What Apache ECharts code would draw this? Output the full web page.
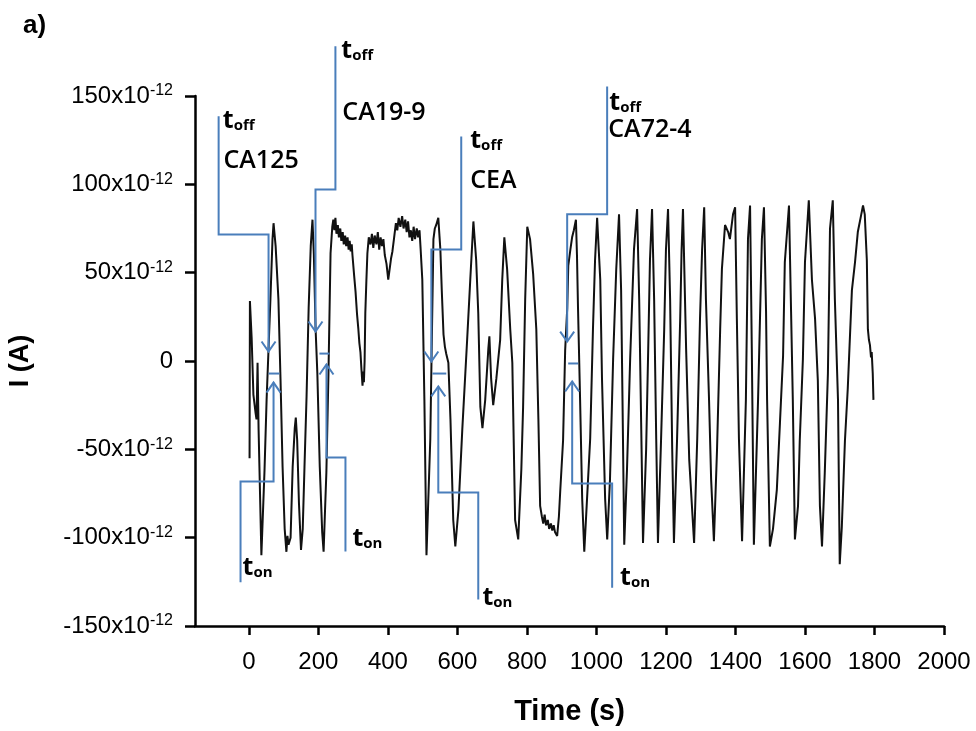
<!DOCTYPE html>
<html>
<head>
<meta charset="utf-8">
<script src="https://cdn.jsdelivr.net/npm/echarts@6/dist/echarts.min.js"></script>
<style>
  html, body { margin: 0; padding: 0; background: #fff; }
  #chart { width: 976px; height: 731px; }
</style>
</head>
<body>
<div id="chart"></div>
<script>
// Photocurrent trace, values in pA (×10^-12 A) against time in seconds
const currentTrace = [
  [2,-55],[3,34],[8,13],[13,-19],[19,-29],[22,-33],[25,-1],[28,-39],[36,-110],[45,-62],[51,-22],[57,9],[62,35],[68,69],[71,78],[77,65],[85,35],[91,-10],[97,-60],[103,-95],[108,-108],[111,-99],[114,-104],[120,-100],[126,-60],[132,-38],[135,-32],[139,-45],[144,-80],[150,-107],[155,-95],[160,-60],[166,-20],[172,30],[178,65],[183,80],[187,60],[192,18],[197,-7],[204,-60],[211,-97],[215,-108],[219,-85],[223,-63],[229,-7],[235,61],[240,76],[243,80],
  [246,74],[249,81],[252,72],[256,77],[259,70],[263,75],[266,68],[270,73],[273,66],[277,71],[280,65],[284,70],[287,63],[290,68],[293,62],[296,66],[298,60],
  [303,48],[307,39],[311,27],[315,18],[318,10],[321,5],[324,-5],[327,-14],[329,-6],[331,-12],[333,0],[335,27],[338,45],[341,61],
  [345,70],[350,66],[354,72],[358,64],[362,71],[367,66],[371,73],[375,63],[379,70],[383,65],[387,69],[391,60],[396,55],[401,46],[405,52],[409,58],[413,62],[418,70],[423,78],[427,74],[431,81],[436,76],[441,82],[445,75],[450,80],[454,73],[458,79],[462,70],[466,74],[470,68],[474,76],[478,69],[483,75],[487,70],[491,74],[494,64],[499,46],[505,-22],[511,-110],
  [516,-80],[522,-44],[527,20],[531,69],[535,75],[539,77],[545,81],[551,63],[555,40],[560,15],[564,8],[568,4],[574,-1],[580,-33],[588,-90],[594,-105],[603,-84],[614,-39],[628,12],[637,46],[646,79],[654,57],[660,27],[666,-26],[672,-38],[680,-22],[689,7],[692,14],[697,-10],[703,-25],[712,-10],[723,12],[729,46],[735,70],[743,52],[752,18],[758,-1],[766,-90],[775,-101],[784,-61],[789,-26],[795,35],[801,76],[809,69],[818,49],[827,18],[833,-33],[838,-82],[843,-88],[847,-92],[851,-87],[855,-93],[860,-90],[864,-95],[869,-92],[873,-96],[877,-93],[881,-97],[887,-99],[892,-88],[896,-73],[904,-45],[910,6],[916,30],[919,54],[925,63],[930,70],[935,74],[941,80],[944,60],[947,30],[953,-22],[959,-78],[965,-108],
  [982,-44],[990,18],[996,57],[1002,81],[1011,46],[1016,-10],[1025,-78],[1031,-101],[1039,-67],[1048,1],[1057,52],[1065,83],[1071,40],[1075,-22],[1080,-104],[1088,-61],[1097,1],[1108,63],[1117,86],[1123,35],[1129,-39],[1134,-103],[1143,-50],[1149,7],[1154,57],[1160,86],[1166,35],[1172,-44],[1177,-103],[1186,-44],[1195,18],[1200,63],[1206,86],[1212,35],[1218,-50],[1223,-103],[1232,-44],[1241,24],[1245,63],[1249,86],[1258,7],[1267,-56],[1281,-103],[1290,-44],[1298,24],[1304,63],[1310,87],[1315,35],[1324,-22],[1330,-67],[1338,-102],[1347,-50],[1356,18],[1361,52],[1370,77],[1379,73],[1384,69],[1393,83],[1399,87],[1404,24],[1410,-44],[1419,-102],[1430,-22],[1436,69],[1442,88],[1447,7],[1453,-104],[1465,-22],[1476,69],[1482,87],[1488,28],[1491,-22],[1499,-105],[1508,-95],[1519,-73],[1528,-35],[1537,3],[1542,56],[1554,88],[1560,28],[1565,-22],[1571,-101],[1580,-82],[1585,-45],[1594,1],[1600,56],[1606,75],[1611,91],[1620,46],[1629,24],[1637,-11],[1643,-82],[1649,-105],[1657,-63],[1666,-7],[1672,75],[1680,91],[1686,35],[1695,-22],[1700,-115],[1706,-94],[1715,-45],[1723,-16],[1735,40],[1744,56],[1752,73],[1761,82],[1767,88],[1772,83],[1778,57],[1781,18],[1784,12],[1787,9],[1790,2],[1792,5],[1795,-7],[1797,-22]
];

// Axis ticks
const timeTicks = [0, 200, 400, 600, 800, 1000, 1200, 1400, 1600, 1800, 2000];

// Light-off / light-on marker paths (time s, current pA); last point carries the arrow
const ca125Off = [[-87, 138.5], [-87, 71.6], [56.6, 71.6], [56.6, 5.4]];
const ca125On  = [[-24, -125.3], [-24, -68.2], [71, -68.2], [71, -12.2]];
const ca125Gap = [[56.6, -7.1], [88, -7.1]];
const ca199Off = [[249, 178.1], [249, 97.1], [191.7, 97.1], [191.7, 16.7]];
const ca199On  = [[277.9, -107.9], [277.9, -54.6], [223.3, -54.6], [223.3, -2.0]];
const ca199Gap = [[203, 4.2], [232, 4.2]];
const ceaOff   = [[611, 127.1], [611, 63.1], [525, 63.1], [525, -0.3]];
const ceaOn    = [[660, -135], [660, -74.5], [545, -74.5], [545, -14.4]];
const ceaGap   = [[528, -7.1], [568, -7.1]];
const ca724Off = [[1030.8, 155.4], [1030.8, 83], [915.8, 83], [915.8, 11.0]];
const ca724On  = [[1045.2, -128.3], [1045.2, -69.4], [930.2, -69.4], [930.2, -11.6]];
const ca724Gap = [[918.7, -1.4], [947.4, -1.4]];

const arrowPaths = [ca125Off, ca125On, ca199Off, ca199On, ceaOff, ceaOn, ca724Off, ca724On];
const gapPaths = [ca125Gap, ca199Gap, ceaGap, ca724Gap];

// Marker captions: [time, current, kind, text]
const markerLabels = [
  [-75, 135.6, 'sub', 'off'], [-73, 113.5, 'name', 'CA125'], [-18, -117.5, 'sub', 'on'],
  [266, 175.3, 'sub', 'off'], [269, 140.5, 'name', 'CA19-9'], [298, -101.1, 'sub', 'on'],
  [637, 124.5, 'sub', 'off'], [637, 102.2, 'name', 'CEA'], [672, -134.5, 'sub', 'on'],
  [1037, 145.8, 'sub', 'off'], [1034, 131, 'name', 'CA72-4'], [1068, -123.2, 'sub', 'on']
];

const BLUE = '#4a7ebb';
const FONT = '"Liberation Sans", Arial, sans-serif';
const chart = echarts.init(document.getElementById('chart'), null, { renderer: 'canvas' });

function renderPaths(paths, withArrow) {
  return function (params, api) {
    const pts = paths[params.dataIndex].map(p => api.coord(p));
    const children = [{
      type: 'polyline',
      shape: { points: pts },
      style: { stroke: BLUE, lineWidth: 2, fill: null }
    }];
    if (withArrow) {
      const tip = pts[pts.length - 1];
      const prev = pts[pts.length - 2];
      const dir = tip[1] > prev[1] ? 1 : -1;
      children.push({
        type: 'polyline',
        shape: { points: [[tip[0] - 7, tip[1] - 10 * dir], tip, [tip[0] + 7, tip[1] - 10 * dir]] },
        style: { stroke: BLUE, lineWidth: 2, fill: null }
      });
    }
    return { type: 'group', children };
  };
}

const option = {
  animation: false,
  backgroundColor: '#fff',
  grid: { left: 195, right: 32, top: 96, bottom: 105, containLabel: false, outerBoundsMode: 'none' },
  graphic: [{
    type: 'text', left: 23, top: 13,
    style: { text: 'a)', font: 'bold 26px ' + FONT, fill: '#000' }
  }],
  xAxis: {
    type: 'value', min: -155, max: 2000,
    name: 'Time (s)', nameLocation: 'middle', nameGap: 71,
    nameTextStyle: { fontFamily: FONT, fontWeight: 'bold', fontSize: 29, color: '#000' },
    axisLine: { show: true, onZero: false, lineStyle: { color: '#000', width: 2.5 } },
    axisTick: { show: true, inside: false, length: 9, customValues: timeTicks, lineStyle: { color: '#000', width: 2.5 } },
    axisLabel: {
      customValues: timeTicks, margin: 24,
      formatter: v => String(v),
      fontFamily: FONT, fontSize: 24, color: '#000'
    },
    splitLine: { show: false }
  },
  yAxis: {
    type: 'value', min: -150, max: 150, interval: 50,
    name: 'I (A)', nameLocation: 'middle', nameGap: 161, nameRotate: 90,
    nameTextStyle: { fontFamily: FONT, fontWeight: 'bold', fontSize: 27, color: '#000' },
    axisLine: { show: true, onZero: false, lineStyle: { color: '#000', width: 2.5 } },
    axisTick: { show: true, inside: false, length: 10, lineStyle: { color: '#000', width: 2.5 } },
    axisLabel: {
      margin: 22, color: '#000',
      fontFamily: FONT, fontSize: 24,
      formatter: v => v === 0 ? '{b|0}' : '{b|' + v + 'x10}{s|-12}',
      rich: {
        b: { fontFamily: FONT, fontSize: 24, lineHeight: 26, color: '#000' },
        s: { fontFamily: FONT, fontSize: 16, lineHeight: 16, verticalAlign: 'top', color: '#000' }
      }
    },
    splitLine: { show: false }
  },
  series: [
    {
      name: 'I', type: 'line', data: currentTrace, showSymbol: false, symbol: 'none',
      lineStyle: { color: '#111', width: 2 }, z: 2
    },
    {
      type: 'custom', clip: false, silent: true, z: 3,
      data: arrowPaths.map(p => [p[0][0], p[0][1]]),
      renderItem: renderPaths(arrowPaths, true)
    },
    {
      type: 'custom', clip: false, silent: true, z: 3,
      data: gapPaths.map(p => [p[0][0], p[0][1]]),
      renderItem: renderPaths(gapPaths, false)
    },
    {
      type: 'custom', clip: false, silent: true, z: 4,
      data: markerLabels.map(l => [l[0], l[1]]),
      renderItem: function (params, api) {
        const l = markerLabels[params.dataIndex];
        const p = api.coord([l[0], l[1]]);
        const isName = l[2] === 'name';
        return {
          type: 'text', x: p[0], y: p[1],
          style: {
            text: isName ? '{n|' + l[3] + '}' : '{t|t}{s|' + l[3] + '}',
            align: 'left', verticalAlign: 'middle',
            rich: {
              n: { fontFamily: '"Open Sans", "Noto Sans", sans-serif', fontSize: 25, fontWeight: 600, color: '#111' },
              t: { fontFamily: '"Open Sans", "Noto Sans", sans-serif', fontSize: 25, fontWeight: 'bold', color: '#111', lineHeight: 24, verticalAlign: 'bottom' },
              s: { fontFamily: '"Open Sans", "Noto Sans", sans-serif', fontSize: 15, fontWeight: 'bold', color: '#111', lineHeight: 18, verticalAlign: 'bottom' }
            }
          }
        };
      }
    }
  ]
};
chart.setOption(option);
</script>
</body>
</html>
